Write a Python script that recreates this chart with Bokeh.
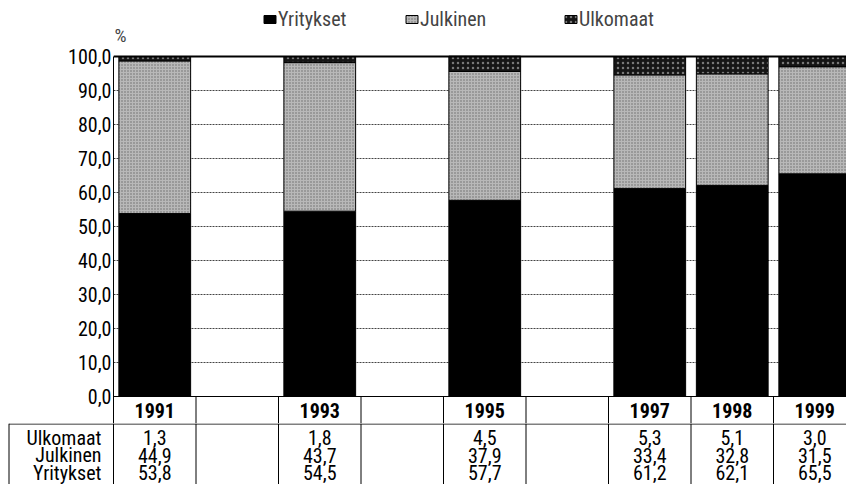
from bokeh.plotting import figure
from bokeh.models import (Range1d, FixedTicker, Span, Legend, LegendItem, Label,
                          ColumnDataSource)
from bokeh.core.properties import value
from bokeh.embed import file_html
from bokeh.resources import INLINE

# ---------------- data ----------------
years = [1991, 1993, 1995, 1997, 1998, 1999]
first_year, last_year = 1991, 1999
yritykset = [53.8, 54.5, 57.7, 61.2, 62.1, 65.5]
julkinen = [44.9, 43.7, 37.9, 33.4, 32.8, 31.5]
ulkomaat = [1.3, 1.8, 4.5, 5.3, 5.1, 3.0]
series = ["Yritykset", "Julkinen", "Ulkomaat"]
table_rows = ["Ulkomaat", "Julkinen", "Yritykset"]
y_ticks = [0, 10, 20, 30, 40, 50, 60, 70, 80, 90, 100]
y_unit_label = "%"

def fmt(v):
    return f"{v:.1f}".replace(".", ",")

# ---------------- layout ----------------
FONT = "Roboto Condensed, DejaVu Sans Condensed, Liberation Sans Narrow, Arial Narrow, Roboto"
W = 846
H_CHART, H_TABLE = 423, 61
LEFT = 113                 # page x of the y axis
FRAME_W = W - LEFT
COL = 82.5                 # px per year column
PXU = 3.4                  # px per percentage unit
ZERO_PAGE = 396            # page y of the 0 line

def d(page_y):
    return (ZERO_PAGE - page_y) / PXU

n_cols = last_year - first_year + 1
x_end = FRAME_W / COL
y_bottom = d(H_CHART)

# ================= chart (with year row) =================
p = figure(width=W, height=H_CHART, output_backend="svg", toolbar_location=None,
           x_range=Range1d(0, x_end), y_range=Range1d(y_bottom, d(0)),
           x_axis_location=None, min_border=0)
p.min_border_left = LEFT
p.min_border_top = 0
p.min_border_right = 0
p.min_border_bottom = 0
p.outline_line_color = None

ax = p.yaxis[0]
ax.ticker = FixedTicker(ticks=y_ticks)
ax.major_label_overrides = {t: fmt(t) for t in y_ticks}
ax.major_label_text_font = FONT
ax.major_label_text_font_size = "20px"
ax.major_label_text_color = "black"
ax.major_label_standoff = 2
ax.major_tick_out = 0
ax.major_tick_in = 0
ax.minor_tick_out = 0
ax.minor_tick_in = 0
ax.axis_line_color = "black"
ax.bounds = (y_bottom, 100)

p.xgrid.visible = False
p.ygrid.ticker = FixedTicker(ticks=y_ticks[1:-1])
p.ygrid.grid_line_color = "#444444"
p.ygrid.grid_line_dash = "2 1"

xs = [(y - first_year) + 0.5 for y in years]
src = ColumnDataSource(dict(x=xs, Yritykset=yritykset, Julkinen=julkinen,
                            Ulkomaat=ulkomaat))
renderers = p.vbar_stack(series, x="x", width=0.87, source=src,
                         fill_color=["black", "#b8b8b8", "#151515"],
                         hatch_pattern=["blank", "dot", "dot"],
                         hatch_color=["black", "#6a6a6a", "#777777"],
                         hatch_scale=[4, 3, 5],
                         line_color="black", line_width=1)

p.add_layout(Span(location=100, dimension="width", line_color="black", line_width=2))
p.add_layout(Span(location=0, dimension="width", line_color="black", line_width=1))

p.add_layout(Label(x=0, y=100, x_offset=1, y_offset=10, text=y_unit_label,
                   text_font=FONT, text_font_size="19px",
                   text_baseline="bottom", text_align="left"))

leg_x = [262 - LEFT, 404 - LEFT, 563 - LEFT]
for r, name, lx in zip(renderers, series, leg_x):
    leg = Legend(items=[LegendItem(label=name, renderers=[r])],
                 location=(lx, H_CHART - 31),
                 orientation="horizontal", padding=0, margin=0, spacing=0,
                 glyph_width=15, glyph_height=10, label_standoff=1,
                 label_height=20, label_text_font=FONT, label_text_font_size="20px",
                 border_line_color=None, background_fill_alpha=0)
    p.add_layout(leg)

# year row (below the 0 line)
Y_YEAR = d(410)
bounds = list(range(1, n_cols))
p.segment(x0=bounds, y0=[0] * len(bounds), x1=bounds, y1=[y_bottom] * len(bounds),
          line_color="black", line_width=1)
p.text(x=xs, y=[Y_YEAR] * len(xs), text=[str(y) for y in years],
       text_font=value(FONT), text_font_size="20px", text_font_style="bold",
       text_align="center", text_baseline="middle", text_color="black")

# ================= value table =================
TOP_T = H_CHART
t = figure(width=W, height=H_TABLE, output_backend="svg", toolbar_location=None,
           x_range=Range1d(-LEFT / COL, x_end), y_range=Range1d(TOP_T + H_TABLE, TOP_T),
           x_axis_location=None, y_axis_location=None, min_border=0)
t.outline_line_color = None
t.xgrid.visible = False
t.ygrid.visible = False

row_y = [437, 454.5, 472]
box_left = -(LEFT - 8.5) / COL
values_by_name = {"Yritykset": yritykset, "Julkinen": julkinen, "Ulkomaat": ulkomaat}

vx = list(range(0, n_cols))
t.segment(x0=vx, y0=[TOP_T] * len(vx), x1=vx, y1=[TOP_T + H_TABLE] * len(vx),
          line_color="black", line_width=1)
t.segment(x0=[box_left], y0=[TOP_T + 0.5], x1=[x_end], y1=[TOP_T + 0.5],
          line_color="black", line_width=1)
t.segment(x0=[box_left], y0=[TOP_T], x1=[box_left], y1=[TOP_T + H_TABLE],
          line_color="black", line_width=1)

for name, ry in zip(table_rows, row_y):
    t.text(x=xs, y=[ry] * len(xs), text=[fmt(v) for v in values_by_name[name]],
           text_font=value(FONT), text_font_size="20px",
           text_align="center", text_baseline="middle", text_color="black")
t.text(x=[-12 / COL] * len(table_rows), y=row_y, text=table_rows,
       text_font=value(FONT), text_font_size="20px",
       text_align="right", text_baseline="middle", text_color="black")

open("out.html", "w").write(file_html([p, t], INLINE))
